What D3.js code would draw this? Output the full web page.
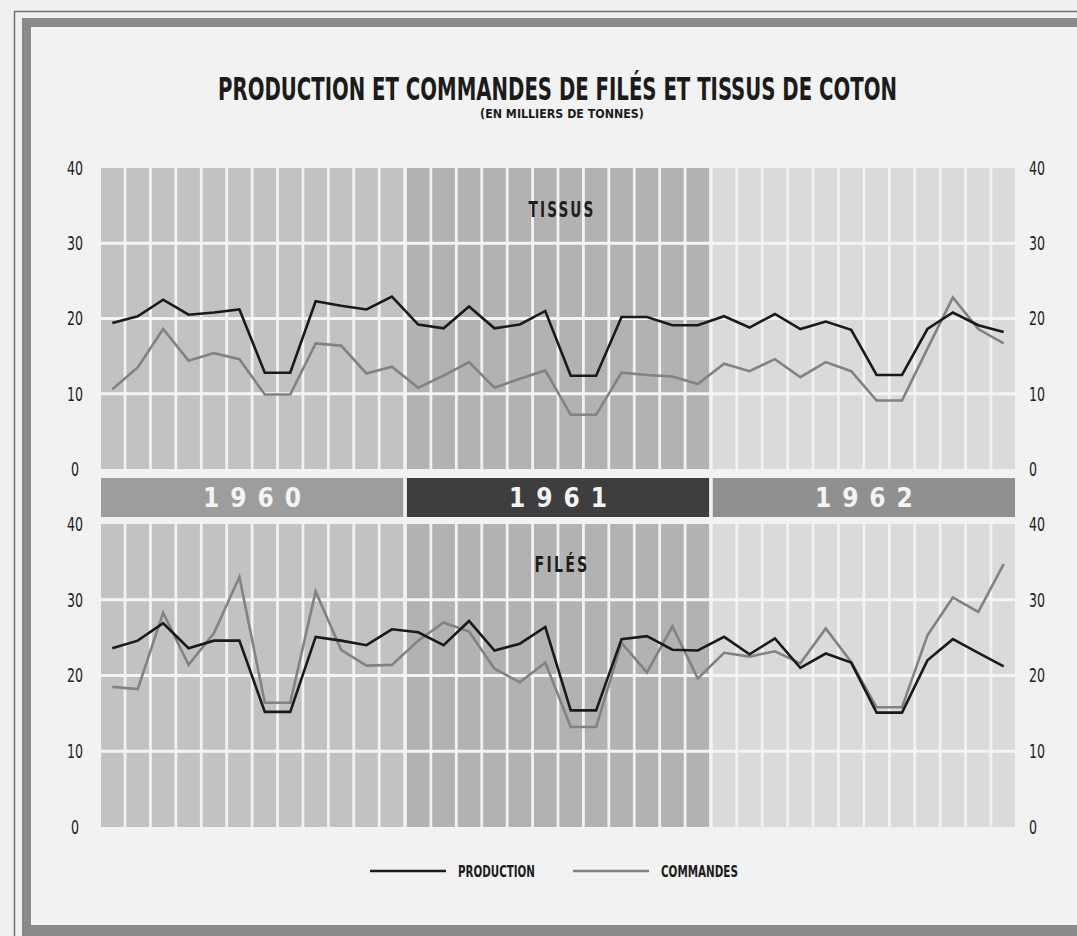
<!DOCTYPE html>
<html>
<head>
<meta charset="utf-8">
<script src="https://cdn.jsdelivr.net/npm/d3@7"></script>
<style>
  body { margin: 0; background: #efefef; }
  svg { display: block; }
</style>
</head>
<body>
<script>
// ---- data (milliers de tonnes, monthly 1960-1962) ----
const years = ['1960', '1961', '1962'];
const monthIdx = [0, 1, 2, 3, 4, 5, 6, 7, 8, 9, 10, 11];
const yTicks = [0, 10, 20, 30, 40];

const tissusProduction = [19.4, 20.3, 22.5, 20.5, 20.8, 21.2, 12.8, 12.8, 22.3, 21.7, 21.2, 22.9,
                          19.2, 18.7, 21.6, 18.7, 19.2, 21.0, 12.4, 12.4, 20.2, 20.2, 19.1, 19.1,
                          20.3, 18.8, 20.6, 18.6, 19.6, 18.5, 12.5, 12.5, 18.6, 20.8, 19.1, 18.2];
const tissusCommandes = [10.6, 13.5, 18.6, 14.4, 15.4, 14.6, 9.9, 9.9, 16.7, 16.4, 12.7, 13.6,
                         10.8, 12.4, 14.2, 10.8, 12.0, 13.1, 7.2, 7.2, 12.8, 12.5, 12.3, 11.3,
                         14.0, 13.0, 14.6, 12.2, 14.2, 13.0, 9.1, 9.1, 16.0, 22.8, 18.6, 16.7];
const filesProduction = [23.6, 24.6, 26.9, 23.6, 24.6, 24.6, 15.2, 15.2, 25.1, 24.6, 24.0, 26.1,
                         25.7, 24.0, 27.2, 23.3, 24.2, 26.4, 15.4, 15.4, 24.8, 25.2, 23.4, 23.3,
                         25.1, 22.8, 24.9, 21.0, 22.9, 21.7, 15.1, 15.1, 22.0, 24.8, 23.0, 21.2];
const filesCommandes = [18.5, 18.2, 28.3, 21.4, 25.6, 33.0, 16.4, 16.4, 31.1, 23.4, 21.3, 21.4,
                        24.6, 27.0, 25.8, 20.9, 19.1, 21.7, 13.2, 13.2, 24.3, 20.4, 26.5, 19.6,
                        23.0, 22.5, 23.2, 21.6, 26.2, 21.8, 15.8, 15.8, 25.3, 30.3, 28.4, 34.7];

const colColors = ['#c2c2c2', '#b2b2b2', '#dadada'];
const bandColors = ['#9d9d9d', '#3e3e3e', '#909090'];

const width = 1077;
const height = 936;
const font = "'DejaVu Sans Condensed', 'DejaVu Sans', sans-serif";

const xYear = d3.scaleBand().domain(years).range([101, 1015]).paddingInner(0.012);
const xMonth = d3.scaleBand().domain(monthIdx).range([0, xYear.bandwidth()]).paddingInner(0.11);
const cx = i => xYear(years[Math.floor(i / 12)]) + xMonth(i % 12) + xMonth.bandwidth() / 2;

const panels = [
  { name: 'TISSUS', y: d3.scaleLinear().domain([0, 40]).range([469, 168]),
    prod: tissusProduction, cmd: tissusCommandes, labelY: 217, labelW: 67 },
  { name: 'FILÉS', y: d3.scaleLinear().domain([0, 40]).range([827, 524]),
    prod: filesProduction, cmd: filesCommandes, labelY: 572, labelW: 55 }
];

// squeeze a text to a given width and cap height (condensed poster lettering)
function fit(text, w, capH) {
  const x = +text.attr('x');
  const y = +text.attr('y');
  text.attr('font-size', 100);
  const natural = text.node().getComputedTextLength();
  const fs = 100 * w / natural;
  text.attr('font-size', fs);
  const sy = (capH / 0.73) / fs;
  text.attr('x', 0).attr('y', 0)
    .attr('transform', `translate(${x},${y}) scale(1,${sy})`);
}

const svg = d3.select('body').append('svg')
  .attr('width', width)
  .attr('height', height);

// paper + frame
svg.append('rect').attr('width', width).attr('height', height).attr('fill', '#efefef');
svg.append('path')
  .attr('d', 'M14.5,936V11.5H1077')
  .attr('fill', 'none').attr('stroke', '#6f6f6f').attr('stroke-width', 1.5);
svg.append('path')
  .attr('d', 'M26.5,925V22.5H1077')
  .attr('fill', 'none').attr('stroke', '#8a8a8a').attr('stroke-width', 9);
svg.append('rect').attr('x', 22).attr('y', 925).attr('width', width - 22).attr('height', 11)
  .attr('fill', '#8a8a8a');
svg.append('rect').attr('x', 31).attr('y', 27).attr('width', width - 31).attr('height', 898)
  .attr('fill', '#f2f2f2');

// title
svg.append('text')
  .attr('x', 557.5).attr('y', 100)
  .attr('text-anchor', 'middle')
  .attr('font-family', font).attr('font-weight', 'bold')
  .attr('fill', '#1b1b1b')
  .text('PRODUCTION ET COMMANDES DE FILÉS ET TISSUS DE COTON')
  .call(fit, 679, 23);
svg.append('text')
  .attr('x', 562).attr('y', 118)
  .attr('text-anchor', 'middle')
  .attr('font-family', font).attr('font-weight', 'bold')
  .attr('fill', '#1b1b1b')
  .text('(EN MILLIERS DE TONNES)')
  .call(fit, 164, 9);

const line = y => d3.line().x((d, i) => cx(i)).y(d => y(d));

panels.forEach(p => {
  const g = svg.append('g');
  const [y0, y1] = p.y.range();

  // year columns
  years.forEach((yr, yi) => {
    g.selectAll(null)
      .data(monthIdx)
      .join('rect')
        .attr('x', m => xYear(yr) + xMonth(m))
        .attr('y', y1)
        .attr('width', xMonth.bandwidth())
        .attr('height', y0 - y1)
        .attr('fill', colColors[yi]);
  });

  // horizontal grid
  g.selectAll(null)
    .data([10, 20, 30])
    .join('line')
      .attr('x1', xYear.range()[0]).attr('x2', xYear.range()[1])
      .attr('y1', d => p.y(d)).attr('y2', d => p.y(d))
      .attr('stroke', '#f4f4f4').attr('stroke-width', 3);

  // axes both sides
  const left = g.append('g').attr('transform', 'translate(75,0)')
    .call(d3.axisLeft(p.y).tickValues(yTicks).tickSize(0).tickPadding(0));
  const right = g.append('g').attr('transform', 'translate(1029,0)')
    .call(d3.axisRight(p.y).tickValues(yTicks).tickSize(0).tickPadding(0));
  [left, right].forEach(a => {
    a.select('.domain').remove();
    a.selectAll('text')
      .attr('font-family', font).attr('font-size', 20).attr('fill', '#222')
      .attr('textLength', d => String(d).length * 8)
      .attr('lengthAdjust', 'spacingAndGlyphs');
  });
  left.selectAll('text').attr('text-anchor', 'middle');
  right.selectAll('text').attr('text-anchor', 'start');

  // panel label (letter-spaced)
  g.append('text')
    .attr('x', 562).attr('y', p.labelY)
    .attr('text-anchor', 'middle')
    .attr('font-family', font).attr('font-weight', 600).attr('fill', '#1e1e1e')
    .attr('letter-spacing', '0.14em')
    .text(p.name)
    .call(fit, p.labelW, 15);

  // series
  g.append('path')
    .datum(p.cmd)
    .attr('d', line(p.y))
    .attr('fill', 'none').attr('stroke', '#828282').attr('stroke-width', 2.6);
  g.append('path')
    .datum(p.prod)
    .attr('d', line(p.y))
    .attr('fill', 'none').attr('stroke', '#1a1a1a').attr('stroke-width', 2.6);
});

// year band
const band = svg.append('g');
band.selectAll('rect')
  .data(years)
  .join('rect')
    .attr('x', d => xYear(d))
    .attr('y', 478)
    .attr('width', xYear.bandwidth())
    .attr('height', 39)
    .attr('fill', (d, i) => bandColors[i]);
band.selectAll('text')
  .data(years)
  .join('text')
    .attr('x', d => xYear(d) + xYear.bandwidth() / 2)
    .attr('y', 507)
    .attr('text-anchor', 'middle')
    .attr('font-family', font).attr('font-weight', 'bold').attr('font-size', 26)
    .attr('fill', '#f4f4f4')
    .attr('textLength', 98).attr('lengthAdjust', 'spacing')
    .text(d => d);

// legend
const legend = svg.append('g');
const legendItems = [
  { label: 'PRODUCTION', color: '#1a1a1a', x: 370 },
  { label: 'COMMANDES', color: '#828282', x: 573 }
];
legend.selectAll('line')
  .data(legendItems)
  .join('line')
    .attr('x1', d => d.x).attr('x2', d => d.x + 76)
    .attr('y1', 871).attr('y2', 871)
    .attr('stroke', d => d.color).attr('stroke-width', 2.6);
legend.selectAll('text')
  .data(legendItems)
  .join('text')
    .attr('x', d => d.x + 88).attr('y', 877)
    .attr('font-family', font).attr('font-weight', 'bold')
    .attr('fill', '#1b1b1b')
    .text(d => d.label)
    .each(function () { fit(d3.select(this), 77, 11); });
</script>
</body>
</html>
